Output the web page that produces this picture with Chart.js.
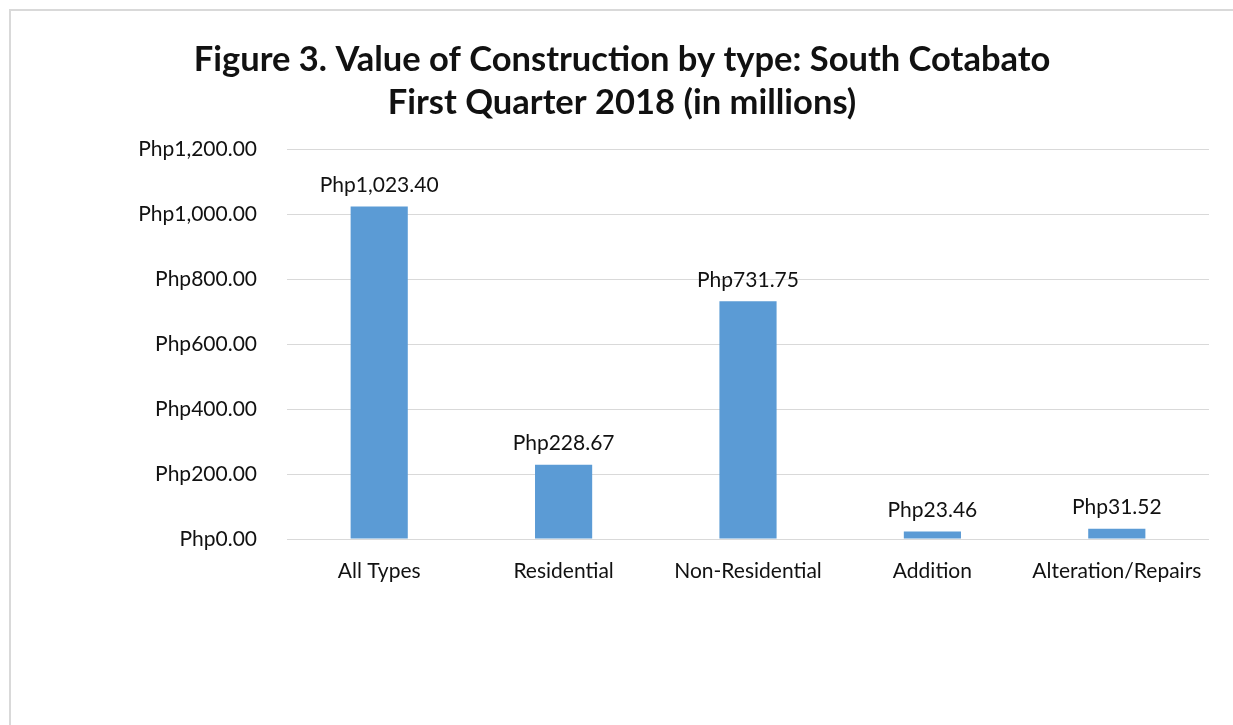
<!DOCTYPE html>
<html>
<head>
<meta charset="utf-8">
<script src="https://cdn.jsdelivr.net/npm/chart.js@4/dist/chart.umd.min.js"></script>
<style>
  html, body { margin: 0; padding: 0; background: #fff; overflow: hidden; }
  #box { position: absolute; left: 9px; top: 9px; width: 1240px; height: 740px; border: 2px solid #d9d9d9; box-sizing: border-box; background: #fff; }
  #wrap { position: absolute; left: 11px; top: 11px; width: 1222px; height: 714px; }
</style>
</head>
<body>
<div id="box"></div>
<div id="wrap"><canvas id="c"></canvas></div>
<script>
const categories = ["All Types", "Residential", "Non-Residential", "Addition", "Alteration/Repairs"];
const values = [1023.40, 228.67, 731.75, 23.46, 31.52];
const valueLabels = ["Php1,023.40", "Php228.67", "Php731.75", "Php23.46", "Php31.52"];
const titleLines = ["Figure 3. Value of Construction by type: South Cotabato", "First Quarter 2018 (in millions)"];

const FONT = "Lato, 'Open Sans', sans-serif";
const TXT = "#111";

const dataLabels = {
  id: 'dataLabels',
  afterDatasetsDraw(chart) {
    const ctx = chart.ctx;
    const meta = chart.getDatasetMeta(0);
    ctx.save();
    ctx.font = "21px " + FONT;
    ctx.fillStyle = TXT;
    ctx.textAlign = 'center';
    ctx.textBaseline = 'bottom';
    meta.data.forEach((bar, i) => {
      ctx.fillText(valueLabels[i], bar.x, bar.y - 11);
    });
    ctx.restore();
  }
};

function fmt(v) {
  return "Php" + Number(v).toLocaleString('en-US', {minimumFractionDigits: 2, maximumFractionDigits: 2});
}

new Chart(document.getElementById('c'), {
  type: 'bar',
  data: {
    labels: categories,
    datasets: [{ data: values, backgroundColor: '#5b9bd5', categoryPercentage: 1, barPercentage: 0.31 }]
  },
  options: {
    responsive: true,
    maintainAspectRatio: false,
    animation: false,
    layout: { padding: { left: 24, right: 24, top: 0, bottom: 0 } },
    plugins: {
      legend: { display: false },
      tooltip: { enabled: false },
      title: {
        display: true,
        text: titleLines,
        color: TXT,
        font: { family: FONT, size: 34.5, weight: 'bold', lineHeight: 1.25 },
        padding: { top: 27, bottom: 25 }
      }
    },
    scales: {
      x: {
        grid: { display: false, drawTicks: false },
        border: { display: false },
        ticks: { color: TXT, font: { family: FONT, size: 21 }, padding: 20, maxRotation: 0 },
        afterFit(s) { s.height = 186; }
      },
      y: {
        min: 0, max: 1200,
        grid: { color: '#d9d9d9', lineWidth: 1, drawTicks: false },
        border: { display: false },
        ticks: { stepSize: 200, color: TXT, font: { family: FONT, size: 21 }, padding: 30, callback: v => fmt(v) },
        afterFit(s) { s.width = 252; }
      }
    }
  },
  plugins: [dataLabels]
});
</script>
</body>
</html>
